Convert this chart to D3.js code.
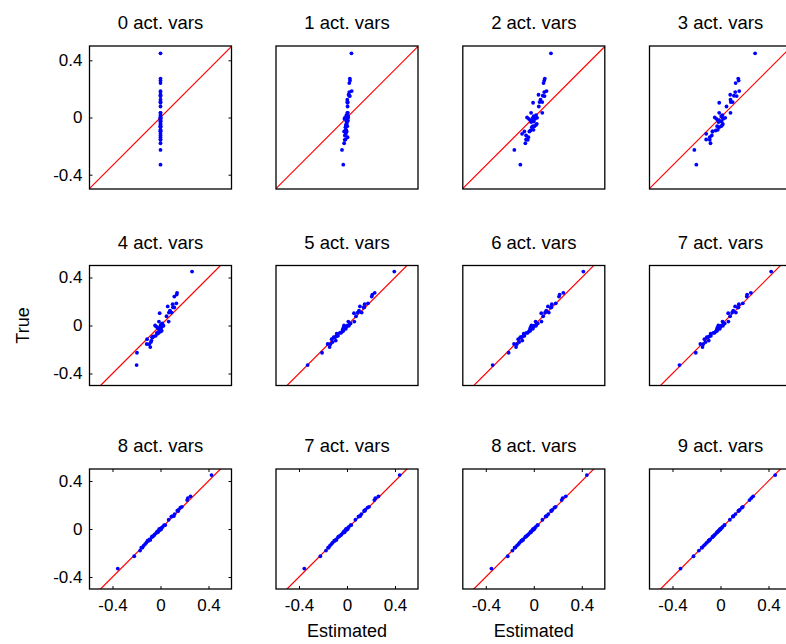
<!DOCTYPE html>
<html>
<head>
<meta charset="utf-8">
<script src="https://cdn.jsdelivr.net/npm/d3@7"></script>
<style>
  body { margin: 0; background: #fff; }
  svg { display: block; }
  text { font-family: "Liberation Sans", Arial, Helvetica, sans-serif; fill: #000; }
</style>
</head>
<body>
<svg id="chart" width="786" height="644"></svg>
<script>
// Panel titles, row by row
const titles = ["0 act. vars", "1 act. vars", "2 act. vars", "3 act. vars",
                "4 act. vars", "5 act. vars", "6 act. vars", "7 act. vars",
                "8 act. vars", "7 act. vars", "8 act. vars", "9 act. vars"];

// True parameter values (shared by every panel)
const trueVals = [0.449, 0.272, 0.258, 0.241, 0.185, 0.178, 0.159, 0.152, 0.150, 0.124,
                  0.108, 0.108, 0.103, 0.077, 0.033, 0.033, 0.017, 0.010, 0.000, -0.002,
                  -0.002, -0.009, -0.009, -0.018, -0.023, -0.028, -0.032, -0.044, -0.051, -0.061,
                  -0.061, -0.068, -0.086, -0.091, -0.098, -0.098, -0.114, -0.126, -0.138, -0.154,
                  -0.156, -0.180, -0.227, -0.330];

// Estimated values, one array per panel, same order as trueVals
const est0 = [0, 0, 0, 0, 0, 0, 0, 0, 0, 0, 0, 0, 0, 0, 0, 0, 0, 0, 0, 0, 0, 0,
              0, 0, 0, 0, 0, 0, 0, 0, 0, 0, 0, 0, 0, 0, 0, 0, 0, 0, 0, 0, 0, 0];
const est1 = [0.031, 0.020, 0.021, 0.016, 0.033, 0.016, 0.011, 0.016, 0.020, 0.002,
              0.005, 0.002, 0.004, 0.004, 0.006, 0.002, -0.004, 0.008, -0.013, -0.004,
              0.008, -0.018, -0.006, 0.004, 0.006, -0.004, 0.000, -0.002, -0.008, -0.006,
              0.002, -0.011, -0.006, -0.011, -0.002, -0.020, -0.008, -0.015, 0.004, -0.011,
              -0.016, -0.020, -0.035, -0.026];
const est2 = [0.120, 0.077, 0.073, 0.068, 0.089, 0.073, 0.033, 0.063, 0.075, 0.047,
              0.040, 0.059, -0.005, 0.035, -0.019, 0.059, 0.016, 0.000, -0.047, -0.007,
              0.023, -0.035, 0.009, -0.026, -0.012, 0.000, -0.019, 0.021, 0.016, -0.007,
              0.005, -0.014, -0.002, -0.023, -0.031, -0.066, -0.082, -0.054, -0.038, -0.054,
              -0.042, -0.059, -0.136, -0.094];
const est3 = [0.242, 0.124, 0.127, 0.106, 0.131, 0.103, 0.068, 0.094, 0.113, 0.070,
              0.072, 0.085, -0.009, 0.042, -0.009, 0.070, 0.014, 0.005, -0.040, 0.014,
              0.033, -0.028, 0.019, -0.019, -0.005, 0.007, -0.014, 0.016, 0.014, -0.023,
              0.005, -0.009, -0.019, -0.033, -0.056, -0.056, -0.100, -0.061, -0.075, -0.100,
              -0.075, -0.070, -0.183, -0.169];
const est4 = [0.263, 0.138, 0.135, 0.115, 0.132, 0.101, 0.060, 0.104, 0.115, 0.079,
              0.093, 0.070, -0.007, 0.050, -0.013, 0.068, 0.015, 0.005, -0.045, 0.000,
              0.025, -0.035, 0.012, -0.025, -0.010, 0.005, -0.015, 0.010, 0.000, -0.030,
              -0.015, -0.025, -0.040, -0.060, -0.065, -0.070, -0.112, -0.075, -0.080, -0.115,
              -0.095, -0.085, -0.196, -0.199];
const est5 = [0.394, 0.231, 0.211, 0.206, 0.175, 0.147, 0.108, 0.144, 0.139, 0.100,
              0.089, 0.122, 0.058, 0.075, 0.011, 0.061, 0.030, 0.020, -0.025, 0.000,
              0.015, -0.020, -0.005, -0.030, -0.015, -0.010, -0.035, -0.030, -0.040, -0.050,
              -0.060, -0.086, -0.075, -0.090, -0.100, -0.111, -0.128, -0.094, -0.120, -0.161,
              -0.139, -0.145, -0.208, -0.328];
const est6 = [0.413, 0.246, 0.215, 0.210, 0.183, 0.150, 0.118, 0.147, 0.142, 0.104,
              0.094, 0.125, 0.062, 0.078, 0.015, 0.064, 0.033, 0.022, -0.020, 0.002,
              0.018, -0.016, -0.002, -0.028, -0.012, -0.008, -0.032, -0.030, -0.042, -0.052,
              -0.062, -0.084, -0.078, -0.092, -0.102, -0.112, -0.130, -0.096, -0.122, -0.165,
              -0.142, -0.148, -0.210, -0.343];
const est7 = [0.422, 0.253, 0.222, 0.219, 0.186, 0.153, 0.122, 0.150, 0.145, 0.106,
              0.097, 0.128, 0.064, 0.080, 0.017, 0.066, 0.035, 0.024, -0.018, 0.004,
              0.020, -0.014, 0.000, -0.026, -0.010, -0.006, -0.030, -0.028, -0.040, -0.050,
              -0.060, -0.082, -0.080, -0.094, -0.104, -0.114, -0.134, -0.098, -0.124, -0.168,
              -0.145, -0.150, -0.206, -0.342];
const est8 = [0.425, 0.250, 0.228, 0.222, 0.178, 0.165, 0.150, 0.140, 0.148, 0.118,
              0.100, 0.112, 0.090, 0.068, 0.030, 0.040, 0.018, 0.008, -0.010, -0.002,
              0.005, -0.012, -0.005, -0.020, -0.028, -0.022, -0.035, -0.048, -0.052, -0.062,
              -0.070, -0.072, -0.092, -0.085, -0.100, -0.108, -0.118, -0.128, -0.140, -0.150,
              -0.160, -0.170, -0.219, -0.356];
const est9 = [0.439, 0.262, 0.236, 0.228, 0.184, 0.170, 0.152, 0.148, 0.142, 0.120,
              0.104, 0.110, 0.095, 0.070, 0.030, 0.036, 0.015, 0.008, -0.008, 0.000,
              0.004, -0.012, -0.006, -0.022, -0.026, -0.020, -0.034, -0.046, -0.050, -0.064,
              -0.068, -0.075, -0.090, -0.088, -0.102, -0.106, -0.120, -0.130, -0.142, -0.152,
              -0.158, -0.175, -0.222, -0.356];
const est10 = [0.442, 0.266, 0.240, 0.232, 0.182, 0.172, 0.154, 0.146, 0.145, 0.121,
               0.102, 0.108, 0.098, 0.072, 0.030, 0.034, 0.016, 0.009, -0.006, -0.001,
               0.002, -0.010, -0.008, -0.020, -0.025, -0.024, -0.033, -0.045, -0.052, -0.062,
               -0.066, -0.072, -0.090, -0.090, -0.100, -0.104, -0.118, -0.128, -0.140, -0.154,
               -0.160, -0.178, -0.217, -0.353];
const est11 = [0.456, 0.272, 0.257, 0.242, 0.186, 0.178, 0.160, 0.151, 0.149, 0.125,
               0.108, 0.107, 0.103, 0.078, 0.034, 0.032, 0.017, 0.010, 0.001, -0.002,
               -0.003, -0.009, -0.010, -0.018, -0.023, -0.029, -0.032, -0.044, -0.051, -0.061,
               -0.062, -0.068, -0.086, -0.091, -0.098, -0.099, -0.114, -0.126, -0.138, -0.154,
               -0.156, -0.180, -0.225, -0.333];

const estimates = [est0, est1, est2, est3, est4, est5, est6, est7, est8, est9, est10, est11];

const yTicks = [-0.4, 0, 0.4];
const xTicks = [-0.4, 0, 0.4];

// Layout of the 3 x 4 grid
const colLeft = [89.5, 276, 462.8, 649.5];
const panelW = 142;
const rowTop = [46, 265.5, 469];
const rowH = [143, 120, 120];

const tickFont = 17, titleFont = 18.5, labelFont = 18;

const svg = d3.select("#chart");
const fmt = d => (d === 0 ? "0" : d.toFixed(1));

titles.forEach((title, i) => {
  const r = Math.floor(i / 4), c = i % 4;
  const left = colLeft[c], top = rowTop[r], h = rowH[r];
  // equal data aspect: y spans [-0.5, 0.5], x stretched to the box width
  const half = 0.5 * panelW / h;
  const x = d3.scaleLinear().domain([-half, half]).range([left, left + panelW]);
  const y = d3.scaleLinear().domain([-0.5, 0.5]).range([top + h, top]);

  const g = svg.append("g");
  const clipId = "clip" + i;
  g.append("clipPath").attr("id", clipId)
    .append("rect").attr("x", left).attr("y", top).attr("width", panelW).attr("height", h);

  const plot = g.append("g").attr("clip-path", `url(#${clipId})`);

  // identity line
  plot.append("line")
    .attr("x1", x(-0.7)).attr("y1", y(-0.7))
    .attr("x2", x(0.7)).attr("y2", y(0.7))
    .attr("stroke", "#ff0000").attr("stroke-width", 1.2);

  // estimated vs. true values
  const pts = estimates[i].map((e, k) => ({ e, t: trueVals[k] }));
  plot.selectAll("circle").data(pts).enter().append("circle")
    .attr("cx", d => x(d.e)).attr("cy", d => y(d.t))
    .attr("r", 1.9).attr("fill", "#0000ff");

  // y ticks on the first column (both sides, pointing inward)
  if (c === 0) {
    const yl = g.append("g").attr("transform", `translate(${left},0)`)
      .call(d3.axisLeft(y).tickValues(yTicks).tickSize(-3).tickPadding(7).tickFormat(fmt));
    const yr = g.append("g").attr("transform", `translate(${left + panelW},0)`)
      .call(d3.axisRight(y).tickValues(yTicks).tickSize(-3).tickFormat(""));
    [yl, yr].forEach(a => {
      a.select(".domain").remove();
      a.selectAll("line").attr("stroke", "#000").attr("stroke-width", 1);
    });
    yl.selectAll("text").attr("font-size", tickFont).style("font-family", "Liberation Sans, Arial, sans-serif");
  }

  // x ticks on the bottom row
  if (r === 2) {
    const xb = g.append("g").attr("transform", `translate(0,${top + h})`)
      .call(d3.axisBottom(x).tickValues(xTicks).tickSize(-3).tickPadding(10).tickFormat(fmt));
    const xt = g.append("g").attr("transform", `translate(0,${top})`)
      .call(d3.axisTop(x).tickValues(xTicks).tickSize(-3).tickFormat(""));
    [xb, xt].forEach(a => {
      a.select(".domain").remove();
      a.selectAll("line").attr("stroke", "#000").attr("stroke-width", 1);
    });
    xb.selectAll("text").attr("font-size", tickFont).style("font-family", "Liberation Sans, Arial, sans-serif");
  }

  // frame
  g.append("rect").attr("x", left).attr("y", top).attr("width", panelW).attr("height", h)
    .attr("fill", "none").attr("stroke", "#000").attr("stroke-width", 1.3);

  // title
  g.append("text").attr("x", left + panelW / 2).attr("y", top - 17)
    .attr("text-anchor", "middle").attr("font-size", titleFont).text(title);
});

// axis labels
svg.append("text")
  .attr("transform", `translate(29,${rowTop[1] + rowH[1] / 2}) rotate(-90)`)
  .attr("text-anchor", "middle").attr("font-size", labelFont).text("True");

[1, 2].forEach(c => {
  svg.append("text")
    .attr("x", colLeft[c] + panelW / 2).attr("y", 637)
    .attr("text-anchor", "middle").attr("font-size", labelFont).text("Estimated");
});
</script>
</body>
</html>
